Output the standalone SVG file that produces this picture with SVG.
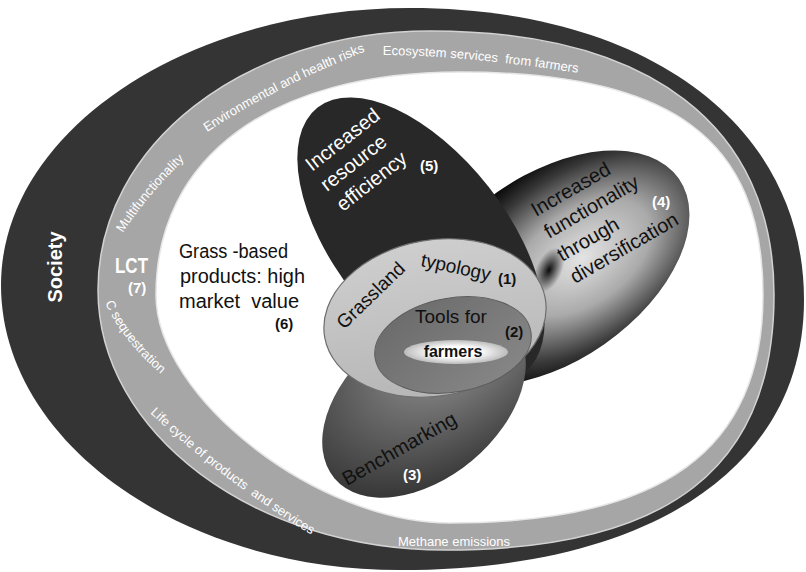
<svg xmlns="http://www.w3.org/2000/svg" width="806" height="572" viewBox="0 0 806 572">
<defs>
<style>
.band{font-family:"Liberation Sans",Arial,sans-serif;font-size:13px;fill:#fff;white-space:pre}
.lbl{font-family:"Liberation Sans",Arial,sans-serif;font-size:20px}
.num{font-family:"Liberation Sans",Arial,sans-serif;font-size:15px;font-weight:bold}
.w{fill:#fff}
.k{fill:#111}
</style>
<radialGradient id="gFunc" cx="0.6" cy="0.55" r="0.55">
<stop offset="0" stop-color="#e4e4e4"/>
<stop offset="0.45" stop-color="#aaaaaa"/>
<stop offset="0.82" stop-color="#383838"/>
<stop offset="1" stop-color="#0e0e0e"/>
</radialGradient>
<radialGradient id="gSpot">
<stop offset="0" stop-color="#000" stop-opacity="0.95"/>
<stop offset="1" stop-color="#000" stop-opacity="0"/>
</radialGradient>
<radialGradient id="gBench" cx="0.75" cy="0.3" r="0.85">
<stop offset="0" stop-color="#9c9c9c"/>
<stop offset="1" stop-color="#333"/>
</radialGradient>
<radialGradient id="gFarm">
<stop offset="0.45" stop-color="#fff"/>
<stop offset="1" stop-color="#bcbcbc"/>
</radialGradient>
<linearGradient id="gGrass" x1="0" y1="0" x2="0" y2="1">
<stop offset="0" stop-color="#cecece"/>
<stop offset="1" stop-color="#b6b6b6"/>
</linearGradient>
<linearGradient id="gTools" x1="0" y1="0" x2="1" y2="1">
<stop offset="0" stop-color="#686868"/>
<stop offset="1" stop-color="#8a8a8a"/>
</linearGradient>
<path id="pMulti" d="M123,233 Q150,190 200,145"/>
<path id="pEnv" d="M207,132 Q281,84 374,48"/>
<path id="pEco" d="M383,55 Q462,55 586,74"/>
<path id="pCseq" d="M105,303 Q125,345 168,380"/>
<path id="pLife" d="M150,413 Q225,483 320,540"/>
</defs>

<g id="society">
<path d="M1,285 C1,132.6 185,8 410,8 C646.4,8 804,124.8 804,300 C804,467.4 650.5,570 400,570 C180.5,570 1,441.7 1,285 Z" fill="#343434"/>
<text transform="translate(62,267) rotate(-90)" text-anchor="middle" font-family="Liberation Sans, Arial, sans-serif" font-size="20" font-weight="bold" fill="#fff">Society</text>
</g>

<g id="lct-ring">
<path d="M98,290 C98,145 244,31 430,31 C650,31 774,126 774,295 C774,468.4 668.7,550 445,550 C254,550 98,433 98,290 Z" fill="#a6a6a6" stroke="#d2d2d2" stroke-width="1.5"/>
<path d="M156,295 C156,156.7 271.5,72 460,72 C672,72 763,139 763,295 C763,450 662.8,523 450,523 C317.7,523 156,397.6 156,295 Z" fill="#fff" stroke="#e6e6e6" stroke-width="1.5"/>
<text class="band"><textPath href="#pMulti">Multifunctionality</textPath></text>
<text class="band"><textPath href="#pEnv">Environmental and health risks</textPath></text>
<text class="band"><textPath href="#pEco">Ecosystem services  from farmers</textPath></text>
<text class="band"><textPath href="#pCseq">C sequestration</textPath></text>
<text class="band"><textPath href="#pLife">Life cycle of products  and services</textPath></text>
<text class="band" x="398" y="546">Methane emissions</text>
<text x="115" y="273" font-family="Liberation Sans, Arial, sans-serif" font-size="22" font-weight="bold" fill="#fff" textLength="33" lengthAdjust="spacingAndGlyphs">LCT</text>
<text class="num w" x="128" y="293">(7)</text>
</g>

<g id="grass-products">
<text class="lbl k" x="179" y="258" textLength="109" lengthAdjust="spacingAndGlyphs">Grass -based</text>
<text class="lbl k" x="180" y="283" textLength="125" lengthAdjust="spacingAndGlyphs">products: high</text>
<text class="lbl k" x="179" y="308" xml:space="preserve">market  value</text>
<text class="num k" x="275" y="329">(6)</text>
</g>

<g id="functionality">
<ellipse cx="551" cy="268" rx="156" ry="93" transform="rotate(-35 551 268)" fill="url(#gFunc)"/>
<ellipse cx="549" cy="270" rx="24" ry="13" transform="rotate(-65 549 270)" fill="url(#gSpot)"/>
<g class="lbl k">
<text transform="translate(536,217) rotate(-30)">Increased</text>
<text transform="translate(549,239) rotate(-30)">functionality</text>
<text transform="translate(562,262) rotate(-30)">through</text>
<text transform="translate(575,284) rotate(-30)">diversification</text>
</g>
<text class="num w" x="652" y="207">(4)</text>
</g>

<g id="resource-efficiency">
<ellipse cx="421" cy="240" rx="168" ry="86" transform="rotate(52 421 240)" fill="#282828"/>
<g class="lbl w">
<text transform="translate(312,172) rotate(-38)">Increased</text>
<text transform="translate(327,192) rotate(-38)">resource</text>
<text transform="translate(343,212) rotate(-38)">efficiency</text>
</g>
<text class="num w" x="420" y="171">(5)</text>
</g>

<g id="benchmarking">
<ellipse cx="424" cy="403" rx="117" ry="75" transform="rotate(-40 424 403)" fill="url(#gBench)"/>
<text class="lbl k" transform="translate(347,486) rotate(-29.5)">Benchmarking</text>
<text class="num w" x="403" y="480">(3)</text>
</g>

<g id="grassland-typology">
<ellipse cx="435" cy="318" rx="112" ry="78" transform="rotate(-10 435 318)" fill="url(#gGrass)" stroke="#6e6e6e" stroke-width="1.2"/>
<text class="lbl k" transform="translate(344,330) rotate(-44)" style="font-size:19px">Grassland</text>
<text class="lbl k" transform="translate(420,266) rotate(12)" style="font-size:19px">typology</text>
<text class="num k" x="498" y="284">(1)</text>
</g>

<g id="tools">
<ellipse cx="453" cy="345" rx="79" ry="47" transform="rotate(-10 453 345)" fill="url(#gTools)" stroke="#5c5c5c" stroke-width="1"/>
<text class="lbl k" x="415" y="323" style="font-size:19px">Tools for</text>
<text class="num k" x="505" y="337">(2)</text>
</g>

<g id="farmers">
<ellipse cx="456" cy="352" rx="52" ry="12" fill="url(#gFarm)"/>
<text x="453" y="357" text-anchor="middle" font-family="Liberation Sans, Arial, sans-serif" font-size="16" font-weight="bold" fill="#111">farmers</text>
</g>

<g id="connectors"/>
</svg>
